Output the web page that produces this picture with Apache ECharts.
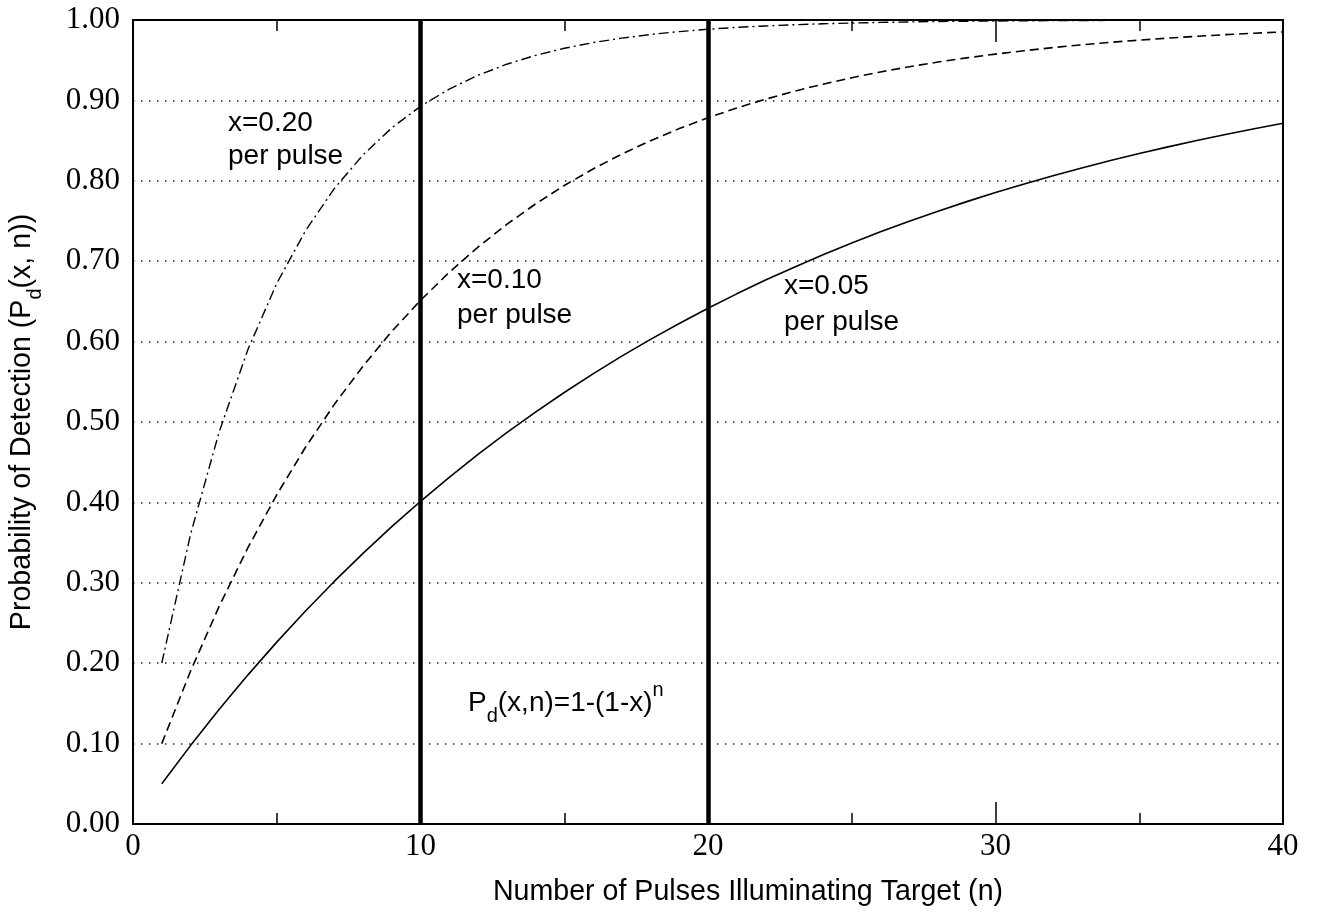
<!DOCTYPE html>
<html>
<head>
<meta charset="utf-8">
<script src="https://cdn.jsdelivr.net/npm/echarts@6/dist/echarts.min.js"></script>
<style>
html,body{margin:0;padding:0;background:#fff;}
#chart{width:1317px;height:913px;}
</style>
</head>
<body>
<div id="chart"></div>
<script>
// Pulse counts n
const pulses = [1,2,3,4,5,6,7,8,9,10,11,12,13,14,15,16,17,18,19,20,21,22,23,24,25,26,27,28,29,30,31,32,33,34,35,36,37,38,39,40];
// Probability of detection for x = 0.05 per pulse
const pd005 = [0.0500,0.0975,0.1426,0.1855,0.2262,0.2649,0.3017,0.3366,0.3698,0.4013,0.4312,0.4596,0.4867,0.5123,0.5367,0.5599,0.5819,0.6028,0.6226,0.6415,0.6594,0.6765,0.6926,0.7080,0.7226,0.7365,0.7497,0.7622,0.7741,0.7854,0.7961,0.8063,0.8160,0.8252,0.8339,0.8422,0.8501,0.8576,0.8647,0.8715];
// x = 0.10 per pulse
const pd010 = [0.1000,0.1900,0.2710,0.3439,0.4095,0.4686,0.5217,0.5695,0.6126,0.6513,0.6862,0.7176,0.7458,0.7712,0.7941,0.8147,0.8332,0.8499,0.8649,0.8784,0.8906,0.9015,0.9114,0.9202,0.9282,0.9354,0.9419,0.9477,0.9529,0.9576,0.9618,0.9657,0.9691,0.9722,0.9750,0.9775,0.9797,0.9818,0.9836,0.9852];
// x = 0.20 per pulse
const pd020 = [0.2000,0.3600,0.4880,0.5904,0.6723,0.7379,0.7903,0.8322,0.8658,0.8926,0.9141,0.9313,0.9450,0.9560,0.9648,0.9719,0.9775,0.9820,0.9856,0.9885,0.9908,0.9926,0.9941,0.9953,0.9962,0.9970,0.9976,0.9981,0.9985,0.9988,0.9990,0.9992,0.9994,0.9995,0.9996,0.9997,0.9997,0.9998,0.9998,0.9999];
// Reference pulse counts marked with vertical lines
const markerPulses = [10, 20];
// Axis tick labels
const xTicks = [0, 10, 20, 30, 40];
const yTicks = [0, 0.1, 0.2, 0.3, 0.4, 0.5, 0.6, 0.7, 0.8, 0.9, 1.0];

const SANS = '"Liberation Sans", Arial, Helvetica, sans-serif';
const SERIF = '"Liberation Serif", "Times New Roman", serif';
const INK = '#000';

function pairs(ys){ return pulses.map((n,i)=>[n, ys[i]]); }

const chart = echarts.init(document.getElementById('chart'), null, {renderer:'canvas'});

const subRich = {
  sub: {fontFamily: SANS, fontSize: 20, lineHeight: 9, verticalAlign: 'bottom', color: INK},
  sup: {fontFamily: SANS, fontSize: 20, lineHeight: 44, verticalAlign: 'top', color: INK},
  base: {fontFamily: SANS, fontSize: 28, lineHeight: 46, verticalAlign: 'middle', color: INK}
};
const titleRich = {
  sub: {fontFamily: SANS, fontSize: 20, lineHeight: 11, verticalAlign: 'bottom', color: INK},
  base: {fontFamily: SANS, fontSize: 28.6, lineHeight: 46, verticalAlign: 'middle', color: INK}
};

const option = {
  animation: false,
  backgroundColor: '#fff',
  grid: {left: 133, right: 34, top: 20, bottom: 89, containLabel: false, outerBoundsMode: 'none'},
  xAxis: [{
    type: 'value', min: 0, max: 40, interval: 10, position: 'bottom',
    name: 'Number of Pulses Illuminating Target (n)',
    nameLocation: 'middle', nameGap: 54,
    nameTextStyle: {fontFamily: SANS, fontSize: 28.6, color: INK, padding: [0,0,0,80]},
    axisLine: {show: true, onZero: false, lineStyle: {color: INK, width: 2}},
    axisTick: {show: true, inside: true, length: 22, lineStyle: {color: INK, width: 1.5}},
    minorTick: {show: true, splitNumber: 2, length: 11, lineStyle: {color: INK, width: 1.5}},
    axisLabel: {fontFamily: SERIF, fontSize: 31, color: INK, margin: 7,
      formatter: v => xTicks.indexOf(v) >= 0 ? String(v) : ''},
    splitLine: {show: false}
  }, {
    type: 'value', min: 0, max: 40, interval: 10, position: 'top',
    axisLine: {show: true, onZero: false, lineStyle: {color: INK, width: 2}},
    axisTick: {show: true, inside: true, length: 22, lineStyle: {color: INK, width: 1.5}},
    minorTick: {show: true, splitNumber: 2, length: 11, lineStyle: {color: INK, width: 1.5}},
    axisLabel: {show: false},
    splitLine: {show: false}
  }],
  yAxis: [{
    type: 'value', min: 0, max: 1, interval: 0.1, position: 'left',
    name: '{base|Probability of Detection (P}{sub|d}{base|(x, n))}',
    nameLocation: 'middle', nameGap: 88,
    nameTextStyle: {fontFamily: SANS, fontSize: 28.6, color: INK, rich: titleRich},
    axisLine: {show: true, onZero: false, lineStyle: {color: INK, width: 2}},
    axisTick: {show: false},
    axisLabel: {fontFamily: SERIF, fontSize: 31, color: INK, margin: 13,
      formatter: v => v.toFixed(2)},
    splitLine: {show: true, lineStyle: {color: '#222', width: 1.5, type: [1.5, 6.5]}}
  }, {
    type: 'value', min: 0, max: 1, interval: 0.1, position: 'right',
    axisLine: {show: true, onZero: false, lineStyle: {color: INK, width: 2}},
    axisTick: {show: false}, axisLabel: {show: false}, splitLine: {show: false}
  }],
  series: [{
    name: 'x=0.05', type: 'line', data: pairs(pd005), symbol: 'none', smooth: false,
    lineStyle: {color: INK, width: 1.6, type: 'solid'},
    markLine: {
      silent: true, symbol: ['none','none'],
      label: {show: false},
      lineStyle: {color: INK, width: 4.5, type: 'solid'},
      data: markerPulses.map(v => ({xAxis: v}))
    },
    z: 3
  }, {
    name: 'x=0.10', type: 'line', data: pairs(pd010), symbol: 'none', smooth: false,
    lineStyle: {color: INK, width: 1.6, type: [9, 5]}, z: 3
  }, {
    name: 'x=0.20', type: 'line', data: pairs(pd020), symbol: 'none', smooth: false,
    lineStyle: {color: INK, width: 1.4, type: [10, 4, 2, 4]}, z: 3
  }],
  graphic: [
    {type:'text', left: 228, top: 107, style:{text:'x=0.20\nper pulse', font: '28px ' + SANS, fill: INK, lineHeight: 33}},
    {type:'text', left: 457, top: 263, style:{text:'x=0.10\nper pulse', font: '28px ' + SANS, fill: INK, lineHeight: 35}},
    {type:'text', left: 784, top: 268, style:{text:'x=0.05\nper pulse', font: '28px ' + SANS, fill: INK, lineHeight: 36}},
    {type:'text', left: 468, top: 680, style:{
      text: '{base|P}{sub|d}{base|(x,n)=1-(1-x)}{sup|n}',
      rich: subRich, fill: INK}}
  ]
};
chart.setOption(option);
</script>
</body>
</html>
